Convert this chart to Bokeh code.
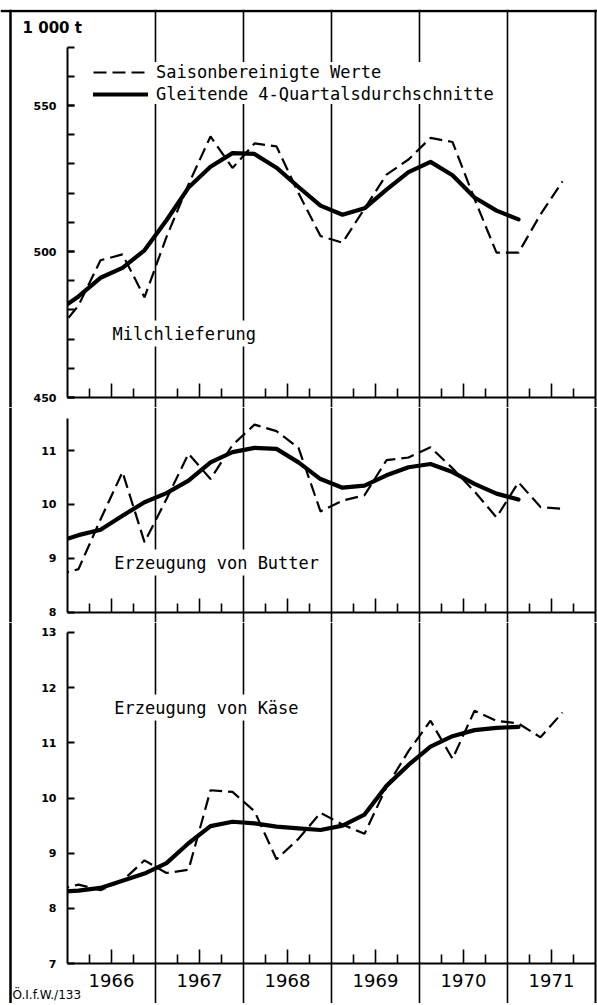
from bokeh.plotting import figure
from bokeh.models import (Range1d, LinearAxis, FixedTicker, Span, Label, Legend,
                          LegendItem, ColumnDataSource, BoxAnnotation, Grid)
from bokeh.layouts import column
from bokeh.embed import file_html
from bokeh.resources import INLINE

# ---------------- data (quarterly, seasonally adjusted, 1 000 t) ----------------
periods = ["1965-IV",
           "1966-I", "1966-II", "1966-III", "1966-IV",
           "1967-I", "1967-II", "1967-III", "1967-IV",
           "1968-I", "1968-II", "1968-III", "1968-IV",
           "1969-I", "1969-II", "1969-III", "1969-IV",
           "1970-I", "1970-II", "1970-III", "1970-IV",
           "1971-I", "1971-II", "1971-III"]

milch_saison = [472.3,
                481.5, 497.0, 499.0, 484.3,
                505.0, 523.0, 539.4, 528.6,
                537.0, 536.0, 520.0, 505.3,
                503.0, 514.7, 526.3, 531.5,
                538.9, 537.5, 518.0, 499.6,
                499.6, 512.7, 524.0]
milch_gleitend = [479.4,
                  484.6, 491.0, 494.4, 500.4,
                  510.7, 521.9, 529.0, 533.7,
                  533.4, 528.7, 522.1, 515.7,
                  512.6, 514.8, 521.2, 527.2,
                  530.7, 526.1, 518.5, 514.0,
                  511.0]

butter_saison = [8.68,
                 8.80, 9.72, 10.60, 9.30,
                 10.10, 10.94, 10.47, 11.10,
                 11.48, 11.36, 11.05, 9.87,
                 10.07, 10.17, 10.82, 10.87,
                 11.06, 10.67, 10.24, 9.76,
                 10.41, 9.95, 9.92]
butter_gleitend = [9.30,
                   9.43, 9.53, 9.79, 10.04,
                   10.21, 10.44, 10.78, 10.97,
                   11.05, 11.03, 10.78, 10.47,
                   10.31, 10.35, 10.54, 10.69,
                   10.75, 10.60, 10.38, 10.20,
                   10.09]

kaese_saison = [8.33,
                8.43, 8.33, 8.50, 8.87,
                8.64, 8.70, 10.14, 10.11,
                9.76, 8.89, 9.26, 9.73,
                9.52, 9.35, 10.20, 10.85,
                11.40, 10.71, 11.58, 11.40,
                11.35, 11.10, 11.55]
kaese_gleitend = [8.30,
                  8.32, 8.37, 8.50, 8.63,
                  8.82, 9.18, 9.49, 9.57,
                  9.54, 9.48, 9.45, 9.42,
                  9.50, 9.70, 10.22, 10.60,
                  10.93, 11.12, 11.23, 11.27,
                  11.29]

years = [1966, 1967, 1968, 1969, 1970, 1971]
year_labels = ["1966", "1967", "1968", "1969", "1970", "1971"]

panel_titles = ["Milchlieferung", "Erzeugung von Butter", "Erzeugung von Käse"]
legend_labels = ["Saisonbereinigte Werte", "Gleitende 4-Quartalsdurchschnitte"]
unit_label = "1 000 t"
source_label = "Ö.I.f.W./133"

# ---------------- helpers ----------------
QNUM = {"I": 1, "II": 2, "III": 3, "IV": 4}


def period_pos(p):
    y, q = p.split("-")
    return int(y) + (QNUM[q] - 0.5) / 4.0


xs_all = [period_pos(p) for p in periods]

FONT = "DejaVu Sans"
MONO = "DejaVu Sans Mono"
FIG_W = 597
PX_PER_YEAR = 88.0
AXIS_PX = 67.0                                   # page x of 1966
X_START = 1966 - AXIS_PX / PX_PER_YEAR
X_END = 1966 + (FIG_W - AXIS_PX) / PX_PER_YEAR
X_BORDER = 1966 - (AXIS_PX - 10) / PX_PER_YEAR   # outer left frame line


def make_fig(height, y0, y1, top=0):
    p = figure(width=FIG_W, height=height,
               x_range=Range1d(X_START, X_END), y_range=Range1d(y0, y1),
               output_backend="svg", toolbar_location=None, tools="",
               x_axis_location=None, y_axis_location=None,
               min_border_left=0, min_border_right=0,
               min_border_top=top, min_border_bottom=0)
    p.center = [r for r in p.center if not isinstance(r, Grid)]
    p.renderers = [r for r in p.renderers if not isinstance(r, Grid)]
    p.outline_line_color = None
    p.background_fill_color = "white"
    p.border_fill_color = "white"
    for yr in years[1:] + [1972]:
        p.add_layout(Span(location=yr, dimension="height", line_color="black",
                          line_width=2 if yr == 1972 else 1.6, level="underlay"))
    return p


def finish_fig(p):
    # white area left of the 1966 axis (hides the 1965 lead-in of the lines)
    p.add_layout(BoxAnnotation(right=1966, fill_color="white", fill_alpha=1.0,
                               line_color=None, level="glyph"))
    p.add_layout(Span(location=X_BORDER, dimension="height", line_color="black",
                      line_width=2.5, level="overlay"))


def add_yaxis(p, lo, hi, major, minor):
    ax = LinearAxis(fixed_location=1966, bounds=(lo, hi),
                    ticker=FixedTicker(ticks=major, minor_ticks=minor),
                    axis_line_width=2, axis_line_color="black",
                    major_tick_in=7, major_tick_out=0, major_tick_line_width=2,
                    minor_tick_in=7, minor_tick_out=0, minor_tick_line_width=2,
                    major_label_standoff=11,
                    major_label_text_font=FONT,
                    major_label_text_font_style="bold",
                    major_label_text_font_size="11px",
                    major_label_text_color="black")
    p.add_layout(ax, "left")


def add_xaxis(p, loc, labels):
    mids = [y + 0.5 for y in years]
    quarters = []
    for y in years:
        quarters += [y + 0.25, y + 0.75]
    if labels:
        overrides = {m: lab for m, lab in zip(mids, year_labels)}
    else:
        overrides = {m: "" for m in mids}
    ax = LinearAxis(fixed_location=loc, bounds=(1966, 1972),
                    ticker=FixedTicker(ticks=mids, minor_ticks=quarters),
                    major_label_overrides=overrides,
                    axis_line_width=2, axis_line_color="black",
                    major_tick_in=14, major_tick_out=0, major_tick_line_width=1.6,
                    minor_tick_in=9, minor_tick_out=0, minor_tick_line_width=1.6,
                    major_label_standoff=10,
                    major_label_text_font=FONT,
                    major_label_text_font_size="18px",
                    major_label_text_color="black")
    p.add_layout(ax, "below")


def add_series(p, saison, gleitend):
    src_d = ColumnDataSource(dict(x=xs_all[:len(saison)], v=saison))
    src_s = ColumnDataSource(dict(x=xs_all[:len(gleitend)], v=gleitend))
    rd = p.line("x", "v", source=src_d, line_color="black", line_width=2.2,
                line_dash="13 6")
    rs = p.line("x", "v", source=src_s, line_color="black", line_width=4.2,
                line_join="round", line_cap="round")
    return rd, rs


def add_title(p, text, x, y):
    p.add_layout(Label(x=x, y=y, text=text, text_font=MONO,
                       text_font_size="17px", text_color="black",
                       text_align="left", text_baseline="middle",
                       background_fill_color="white", background_fill_alpha=1.0,
                       padding=(9, 3)))


# ---------------- panel 1: Milchlieferung ----------------
P1_SCALE = 2.92            # px per 1 000 t
f1 = make_fig(407, 450 - 10 / P1_SCALE, 450 + 388 / P1_SCALE, top=9)
add_yaxis(f1, 450, 570, [450, 500, 550], list(range(450, 571, 10)))
add_xaxis(f1, 450, False)
rd1, rs1 = add_series(f1, milch_saison, milch_gleitend)
finish_fig(f1)
f1.add_layout(Span(location=450 + 386.5 / P1_SCALE, dimension="width",
                   line_color="black", line_width=2.5, level="overlay"))
add_title(f1, panel_titles[0], 1966.41, 471.9)
f1.add_layout(Label(x=1965.489, y=576.5, text=unit_label, text_font=FONT,
                    text_font_size="15px", text_font_style="bold",
                    text_color="black", text_align="left",
                    text_baseline="middle"))
legend = Legend(items=[LegendItem(label=legend_labels[0], renderers=[rd1]),
                       LegendItem(label=legend_labels[1], renderers=[rs1])],
                location=(93, 303), orientation="vertical",
                glyph_width=55, glyph_height=18, label_height=18,
                label_standoff=8, spacing=2, padding=5, margin=0,
                border_line_color=None, background_fill_color="white",
                background_fill_alpha=1.0,
                label_text_font=MONO, label_text_font_size="17px",
                label_text_color="black")
f1.add_layout(legend)

# ---------------- panel 2: Butter ----------------
f2 = make_fig(215, 7.809, 11.798)
add_yaxis(f2, 8, 11.6, [8, 9, 10, 11], [])
add_xaxis(f2, 8, False)
add_series(f2, butter_saison, butter_gleitend)
finish_fig(f2)
add_title(f2, panel_titles[1], 1966.43, 8.92)

# ---------------- panel 3: Käse ----------------
f3 = make_fig(381, 7 - 40 / 55.17, 13 + 10 / 55.17)
add_yaxis(f3, 7, 13, [7, 8, 9, 10, 11, 12, 13], [])
add_xaxis(f3, 7, True)
add_series(f3, kaese_saison, kaese_gleitend)
finish_fig(f3)
add_title(f3, panel_titles[2], 1966.43, 11.64)
f3.add_layout(Label(x=1965.375, y=6.42, text=source_label, text_font=FONT,
                    text_font_size="12px", text_color="black",
                    text_align="left", text_baseline="middle"))

layout = column(f1, f2, f3, spacing=0)

open("out.html", "w").write(file_html(layout, INLINE, title="Milch, Butter, Käse"))
